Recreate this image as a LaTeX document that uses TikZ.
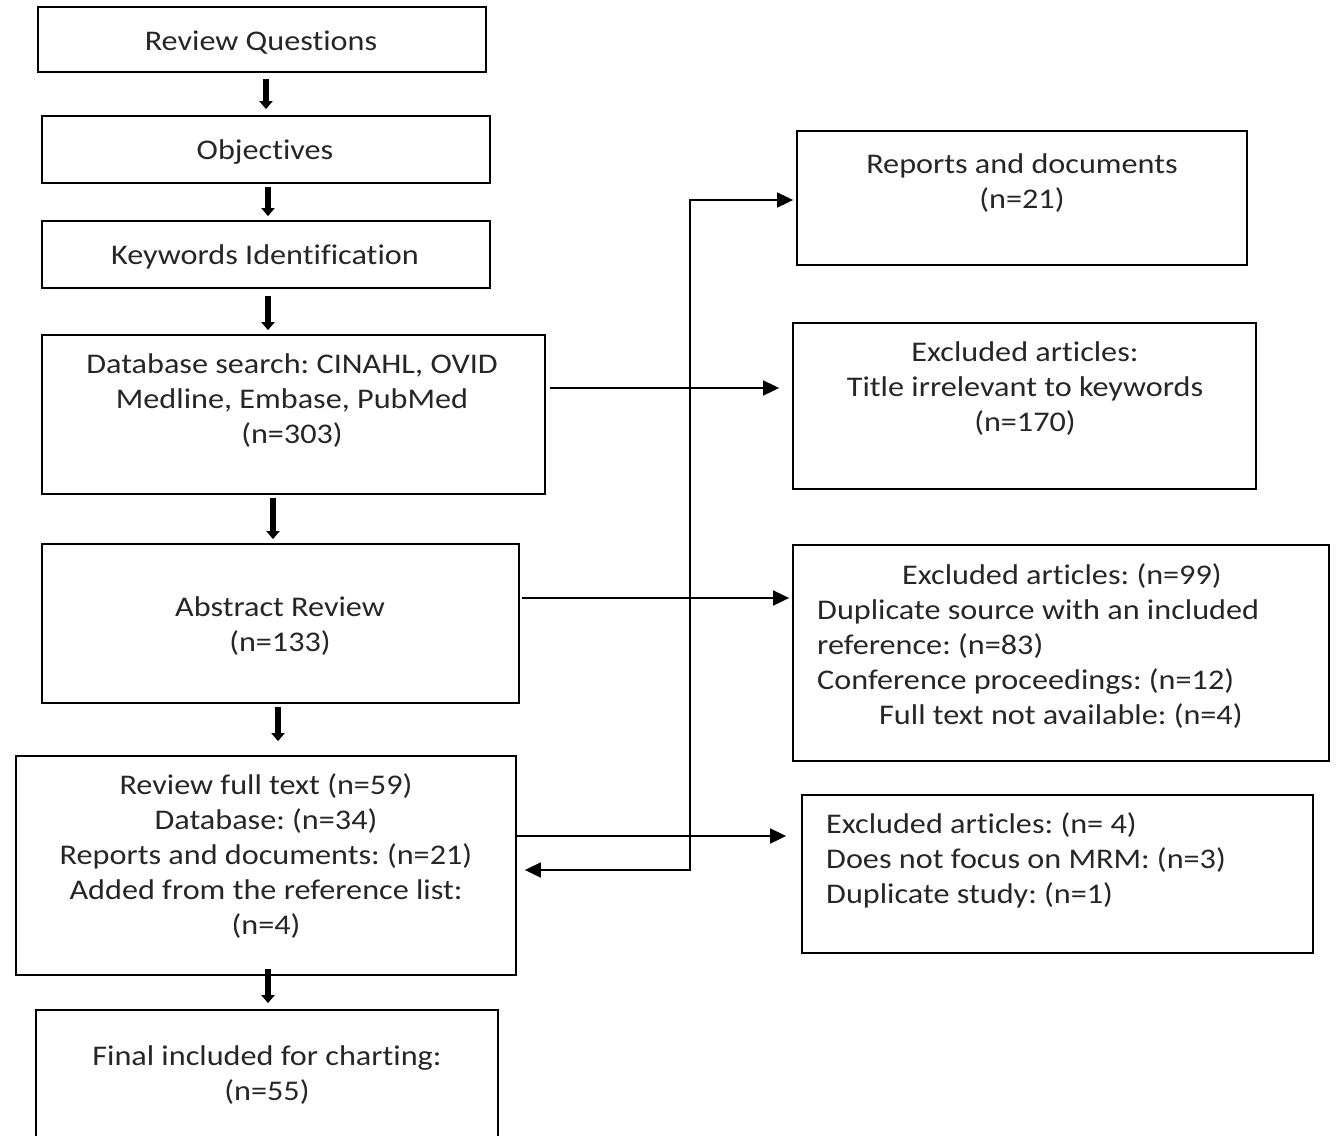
\documentclass[tikz,border=0pt]{standalone}
\usepackage{fontspec}
\setmainfont{Carlito}[FakeStretch=1.13, Ligatures=NoCommon]
\frenchspacing
\usetikzlibrary{arrows.meta,fit}
\begin{document}
\begin{tikzpicture}[x=1pt,y=-1pt,
 box/.style={draw=black, line width=1.8pt, inner sep=0pt},
 txt/.style={font=\fontsize{28.5}{35}\selectfont\frenchspacing, align=center, inner sep=0pt, text=black!85},
 thickarrow/.style={line width=5.5pt, -{Triangle[width=13pt,length=8pt]}},
 thinarrow/.style={line width=1.8pt, -{Triangle[width=15pt,length=16pt]}}]
\useasboundingbox (0,0) rectangle (1337,1135);
\clip (0,0) rectangle (1337,1135);
% left column boxes
\node[box, fit={(38,7)(486,72)}] (rq) {};
\node[box, fit={(42,116)(490,183)}] (obj) {};
\node[box, fit={(42,221)(490,288)}] (kw) {};
\node[box, fit={(42,335)(545,494)}] (db) {};
\node[box, fit={(42,544)(519,703)}] (ab) {};
\node[box, fit={(16,756)(516,975)}] (ft) {};
\node[box, fit={(36,1010)(498,1150)}] (fin) {};
% right column boxes
\node[box, fit={(797,131)(1247,265)}] (r1) {};
\node[box, fit={(793,323)(1256,489)}] (r2) {};
\node[box, fit={(793,545)(1329,761)}] (r3) {};
\node[box, fit={(802,795)(1313,953)}] (r4) {};
% texts
\node[txt] (t1) at (261,43) {Review Questions};
\node[txt] (t2) at (265,152) {Objectives};
\node[txt] (t3) at (265,257) {Keywords Identification};
\node[txt] (t4) at (292,401) {Database search: CINAHL, OVID\\Medline, Embase, PubMed\\(n=303)};
\node[txt] (t5) at (280,626) {Abstract Review\\(n=133)};
\node[txt] (t6) at (266,856) {Review full text (n=59)\\Database: (n=34)\\Reports and documents: (n=21)\\Added from the reference list:\\(n=4)};
\node[txt] (t7) at (267,1075) {Final included for charting:\\(n=55)};
\node[txt] (t8) at (1022,183) {Reports and documents\\(n=21)};
\node[txt] (t9) at (1025,389) {Excluded articles:\\Title irrelevant to keywords\\(n=170)};
\node[txt, align=left, anchor=west] (t10) at (817,646) {\hspace*{85pt}Excluded articles: (n=99)\\Duplicate source with an included\\reference: (n=83)\\Conference proceedings: (n=12)\\\hspace*{62pt}Full text not available: (n=4)};
\node[txt, align=left, anchor=west] (t11) at (826,860) {Excluded articles: (n= 4)\\Does not focus on MRM: (n=3)\\Duplicate study: (n=1)};
% thick down arrows
\draw[thickarrow, shorten <=6pt, shorten >=6pt] (266,0 |- rq.south) -- (266,0 |- obj.north);
\draw[thickarrow, shorten <=3pt, shorten >=4pt] (268,0 |- obj.south) -- (268,0 |- kw.north);
\draw[thickarrow, shorten <=7pt, shorten >=4pt] (268,0 |- kw.south) -- (268,0 |- db.north);
\draw[thickarrow, shorten <=3pt, shorten >=4pt] (273,0 |- db.south) -- (273,0 |- ab.north);
\draw[thickarrow, shorten <=3pt, shorten >=14pt] (278,0 |- ab.south) -- (278,0 |- ft.north);
\draw[thickarrow, shorten <=-7pt, shorten >=6pt] (268,0 |- ft.south) -- (268,0 |- fin.north);
% thin side arrows
\draw[thinarrow, shorten <=4pt, shorten >=13pt] (db.east |- 0,388) -- (r2.west |- 0,388);
\draw[thinarrow, shorten <=2pt, shorten >=3pt] (ab.east |- 0,598) -- (r3.west |- 0,598);
\draw[thinarrow, shorten >=15pt] (ft.east |- 0,836) -- (r4.west |- 0,836);
% bypass connector
\coordinate (b1) at (690,870);
\coordinate (b2) at (690,200);
\draw[line width=1.8pt, {Triangle[width=15pt,length=16pt]}-{Triangle[width=15pt,length=16pt]}, shorten <=8pt, shorten >=3pt]
  (ft.east |- b1) -- (b1) -- (b2) -- (r1.west |- b2);
\end{tikzpicture}
\end{document}
